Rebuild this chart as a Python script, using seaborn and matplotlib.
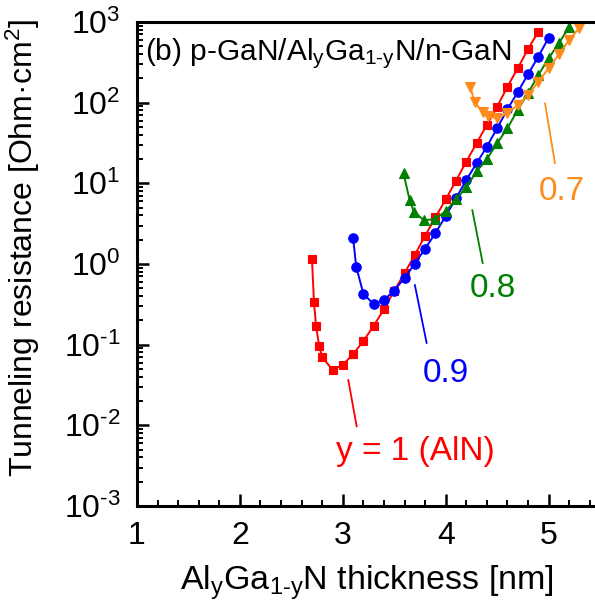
import numpy as np
import pandas as pd
import matplotlib
matplotlib.use("Agg")
import matplotlib.pyplot as plt
import seaborn as sns
from matplotlib.ticker import LogLocator, MultipleLocator, NullFormatter, FuncFormatter

# ---- data ----
x_aln = [2.70, 2.72, 2.74, 2.77, 2.80, 2.90, 3.00, 3.10, 3.20, 3.30, 3.40, 3.50, 3.60,
         3.70, 3.80, 3.90, 4.00, 4.10, 4.20, 4.30, 4.40, 4.50, 4.60, 4.70, 4.80, 4.90]
r_aln = [1.16, 0.336, 0.171, 0.0966, 0.070, 0.0488, 0.0562, 0.0762, 0.111, 0.171, 0.275,
         0.468, 0.769, 1.30, 2.24, 3.80, 6.31, 10.8, 18.6, 31.4, 53.0, 89.1, 158, 267, 462, 759]

x_09 = [3.10, 3.13, 3.20, 3.30, 3.40, 3.50, 3.60, 3.70, 3.80, 3.90, 4.00, 4.10, 4.20,
        4.30, 4.40, 4.50, 4.60, 4.70, 4.80, 4.90, 5.00]
r_09 = [2.12, 0.929, 0.427, 0.318, 0.359, 0.468, 0.673, 1.01, 1.55, 2.41, 3.94, 6.53, 11.0,
        17.7, 28.5, 48.2, 82.8, 135, 225, 372, 638]

x_08 = [3.59, 3.65, 3.69, 3.79, 3.90, 4.00, 4.10, 4.20, 4.30, 4.40, 4.50, 4.60, 4.70,
        4.80, 4.90, 5.00, 5.10, 5.20]
r_08 = [13.3, 6.17, 4.47, 3.47, 3.63, 4.52, 6.31, 8.91, 14.1, 20.0, 31.4, 48.2, 81.3,
        131, 220, 355, 545, 871]

x_07 = [4.24, 4.28, 4.36, 4.41, 4.50, 4.60, 4.70, 4.80, 4.90, 5.00, 5.10, 5.20, 5.30]
r_07 = [158, 101, 77.4, 68.4, 64.1, 74.0, 93.5, 124, 182, 267, 398, 598, 851]

series_labels = ["y = 1 (AlN)", "0.9", "0.8", "0.7"]
x_ticks = [1, 2, 3, 4, 5]

# ---- style ----
sns.set_style("ticks")
plt.rcParams["font.family"] = ["Liberation Sans", "DejaVu Sans"]
plt.rcParams["mathtext.fontset"] = "custom"
plt.rcParams["mathtext.rm"] = "Liberation Sans"
plt.rcParams["mathtext.it"] = "Liberation Sans:italic"
plt.rcParams["mathtext.bf"] = "Liberation Sans:bold"
plt.rcParams["axes.unicode_minus"] = False
for key in ["text.color", "axes.labelcolor", "xtick.color", "ytick.color",
            "xtick.labelcolor", "ytick.labelcolor", "axes.edgecolor"]:
    plt.rcParams[key] = "black"

fig = plt.figure(figsize=(5.95, 6.12), dpi=100)
ax = fig.add_axes([137 / 595, (612 - 506) / 612, 458 / 595, 484 / 612])

colors = ["#FF0000", "#0000FF", "#008000", "#FF8C1A"]
markers = ["s", "o", "^", "v"]
msizes = [5.8, 6.8, 7.4, 7.4]
xs = [x_aln, x_09, x_08, x_07]
rs = [r_aln, r_09, r_08, r_07]

for xv, rv, c, m, ms in zip(xs, rs, colors, markers, msizes):
    sns.lineplot(x=xv, y=rv, ax=ax, color=c, marker=m, markersize=ms,
                 markeredgecolor=c, markeredgewidth=0.8, linewidth=1.4,
                 sort=False, legend=False)

ax.set_yscale("log")
ax.set_xlim(1, 1 + 458 / 102.9)
ax.set_ylim(1e-3, 1e3)


def pow_fmt(v, pos):
    e = int(round(np.log10(v)))
    s = str(e).replace("-", r"\text{-}")
    return r"$\mathregular{10^{%s}}$" % s


ax.xaxis.set_major_locator(MultipleLocator(1))
ax.xaxis.set_minor_locator(MultipleLocator(0.2))
ax.yaxis.set_major_locator(LogLocator(base=10, numticks=10))
ax.yaxis.set_major_formatter(FuncFormatter(pow_fmt))
ax.yaxis.set_minor_locator(LogLocator(base=10, subs=np.arange(2, 10), numticks=20))
ax.yaxis.set_minor_formatter(NullFormatter())
ax.set_xticks(x_ticks)
ax.set_xticklabels([str(t) for t in x_ticks])

ax.tick_params(axis="both", which="major", direction="in", length=8.5, width=1.8,
               labelsize=23, color="black", labelcolor="black")
ax.tick_params(axis="both", which="minor", direction="in", length=4.5, width=1.4,
               color="black")
ax.tick_params(axis="x", which="major", pad=11)
ax.tick_params(axis="y", which="major", pad=12)
ax.tick_params(top=False, right=False, which="both")

for side in ["left", "bottom", "top"]:
    ax.spines[side].set_linewidth(2.2)
    ax.spines[side].set_color("black")
ax.spines["right"].set_visible(False)

ax.set_xlabel(r"Al$_\mathregular{y}$Ga$_\mathregular{1\text{-}y}$N thickness [nm]", fontsize=24.5)
ax.set_ylabel(r"Tunneling resistance [Ohm·cm$^\mathregular{2}$]", fontsize=23)
ax.xaxis.set_label_coords(0.502, -0.118)
ax.yaxis.set_label_coords(-0.207, 0.533)

ax.text(0.0175, 0.9215, r"(b) p-GaN/Al$_\mathregular{y}$Ga$_\mathregular{1\text{-}y}$N/n-GaN",
        transform=ax.transAxes, fontsize=21.5, ha="left", va="baseline")

# leader lines and labels
lead_x = [(3.053, 3.135), (3.70, 3.815), (4.258, 4.36), (4.965, 5.062)]
lead_y = [(0.0366, 0.00966), (0.551, 0.1045), (4.68, 1.02), (98.4, 17.7)]
lab_pos = [(3.71, 0.00373), (4.00, 0.0346), (4.46, 0.39), (5.13, 6.2)]
for (lx, ly, (tx, ty), c, lab) in zip(lead_x, lead_y, lab_pos, colors, series_labels):
    ax.plot(lx, ly, color=c, linewidth=1.3)
    ax.text(tx, ty, lab, color=c, fontsize=24, ha="center", va="baseline")

fig.savefig("out.png", dpi=100)
